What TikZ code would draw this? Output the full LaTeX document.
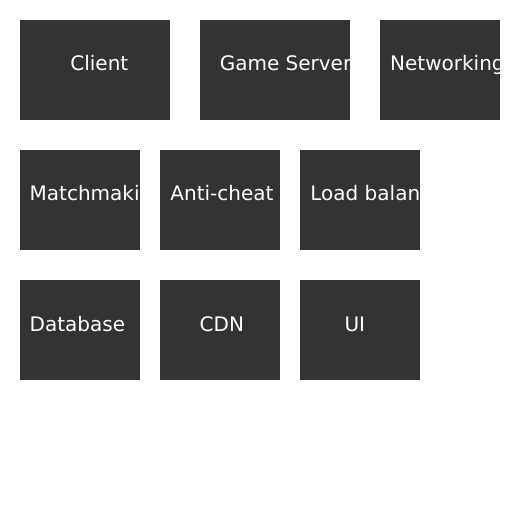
\documentclass[tikz,border=0pt]{standalone}
\usepackage{fontspec}
\setmainfont{DejaVu Sans}
\usetikzlibrary{positioning}
\definecolor{boxgray}{HTML}{333333}
\tikzset{boxtext/.style={anchor=base west, inner sep=0pt, text=white, font=\fontsize{20bp}{24bp}\selectfont}}

\begin{document}
\begin{tikzpicture}[x=1bp,y=-1bp]
	\useasboundingbox (0,0) rectangle (512,512);
	\fill [boxgray] (20,20) rectangle (170,120);
	\fill [boxgray] (200,20) rectangle (350,120);
	\fill [boxgray] (380,20) rectangle (500,120);
	\fill [boxgray] (20,150) rectangle (140,250);
	\fill [boxgray] (160,150) rectangle (280,250);
	\fill [boxgray] (300,150) rectangle (420,250);
	\fill [boxgray] (20,280) rectangle (140,380);
	\fill [boxgray] (160,280) rectangle (280,380);
	\fill [boxgray] (300,280) rectangle (420,380);
	\node [boxtext] (client) at (70.2,71) {Client};
	\node [boxtext] (server) at (219.6,71) {Game Server};
	\begin{scope}
		\clip (380,20) rectangle (500,120);
		\node [boxtext] (net) at (390,71) {Networking};
	\end{scope}
	\begin{scope}
		\clip (20,150) rectangle (140,250);
		\node [boxtext] (match) at (29.5,201) {Matchmaking};
	\end{scope}
	\node [boxtext] (cheat) at (170.2,201) {Anti-cheat};
	\begin{scope}
		\clip (300,150) rectangle (420,250);
		\node [boxtext] (lb) at (310.2,201) {Load balancer};
	\end{scope}
	\node [boxtext] (db) at (29.5,331) {Database};
	\node [boxtext] (cdn) at (199.5,331) {CDN};
	\node [boxtext] (ui) at (344.3,331) {UI};
\end{tikzpicture}
\end{document}
